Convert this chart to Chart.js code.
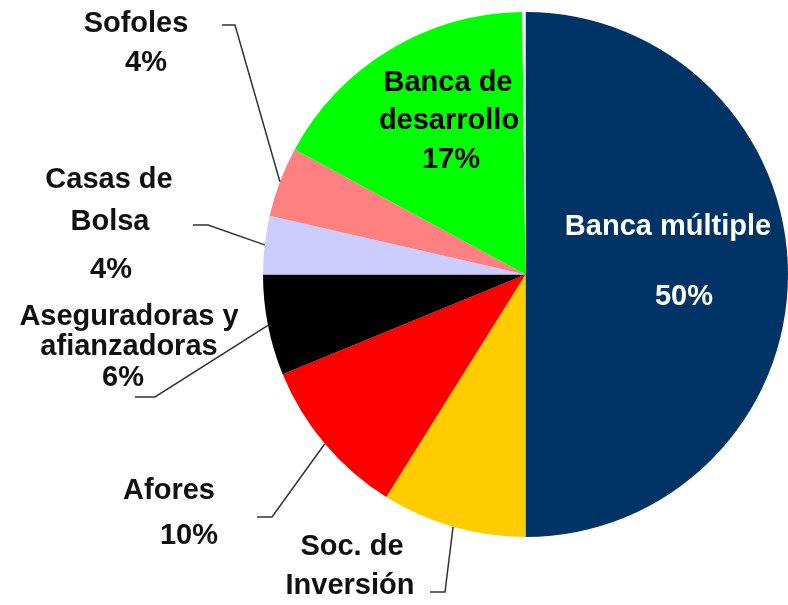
<!DOCTYPE html>
<html>
<head>
<meta charset="utf-8">
<script src="https://cdn.jsdelivr.net/npm/chart.js@4"></script>
<style>
  html, body { margin: 0; padding: 0; background: #fff; }
  #wrap { width: 788px; height: 605px; }
</style>
</head>
<body>
<div id="wrap"><canvas id="pie" width="788" height="605"></canvas></div>
<script>
// === DATOS ===
const categorias = ["Banca múltiple", "Soc. de Inversión", "Afores", "Aseguradoras y afianzadoras",
  "Casas de Bolsa", "Sofoles", "Banca de desarrollo", "Otros"];
const participacion = [50, 8.9, 9.9, 6.2, 3.6, 4.3, 16.9, 0.2];
const colores = ["#003366", "#FFCC00", "#FF0000", "#000000", "#CCCCFF", "#FF8080", "#00FF00", "#FFFFFF"];

// === ETIQUETAS (texto partido en líneas, "%" = porcentaje) ===
const etiquetas = [
  { lines: ["Banca múltiple", "%"], xs: [668, 684], ys: [227, 297], color: "#fff" },
  { lines: ["Soc. de", "Inversión"], xs: [352, 350], ys: [547, 586], elbow: [445, 592], tail: [430, 592] },
  { lines: ["Afores", "%"], xs: [169, 189], ys: [491, 536], elbow: [272, 517], tail: [257, 517] },
  { lines: ["Aseguradoras y", "afianzadoras", "%"], xs: [129, 129, 123], ys: [317, 347, 378], elbow: [155, 397], tail: [135, 397] },
  { lines: ["Casas de", "Bolsa", "%"], xs: [109, 110, 111], ys: [180, 222, 270], elbow: [208, 225], tail: [193, 225] },
  { lines: ["Sofoles", "%"], xs: [136, 146], ys: [24, 63], elbow: [235, 25], tail: [222, 25] },
  { lines: ["Banca de", "desarrollo", "%"], xs: [448, 449, 451], ys: [83, 121, 160], color: "#000" },
  null
];

const etiquetasPlugin = {
  id: "etiquetas",
  afterDatasetsDraw(chart) {
    const ctx = chart.ctx;
    const meta = chart.getDatasetMeta(0);
    ctx.save();
    ctx.font = "bold 29px 'Liberation Sans', Arial, sans-serif";
    ctx.textAlign = "center";
    ctx.textBaseline = "middle";
    etiquetas.forEach((et, i) => {
      if (!et) return;
      const arc = meta.data[i];
      // linea guia desde el borde del sector
      if (et.elbow) {
        const mid = (arc.startAngle + arc.endAngle) / 2;
        const r = arc.outerRadius;
        ctx.strokeStyle = "#333";
        ctx.lineWidth = 1.5;
        ctx.beginPath();
        ctx.moveTo(arc.x + Math.cos(mid) * r, arc.y + Math.sin(mid) * r);
        ctx.lineTo(et.elbow[0], et.elbow[1]);
        ctx.lineTo(et.tail[0], et.tail[1]);
        ctx.stroke();
      }
      ctx.fillStyle = et.color || "#111";
      et.lines.forEach((t, k) => {
        const txt = t === "%" ? Math.round(participacion[i]) + "%" : t;
        ctx.fillText(txt, et.xs[k], et.ys[k]);
      });
    });
    ctx.restore();
  }
};

new Chart(document.getElementById("pie"), {
  type: "pie",
  data: {
    labels: categorias,
    datasets: [{
      data: participacion,
      backgroundColor: colores,
      borderWidth: 0
    }]
  },
  options: {
    responsive: false,
    animation: false,
    layout: { padding: { left: 263, right: 0, top: 12, bottom: 68 } },
    plugins: {
      legend: { display: false },
      tooltip: { enabled: false }
    }
  },
  plugins: [etiquetasPlugin]
});
</script>
</body>
</html>
